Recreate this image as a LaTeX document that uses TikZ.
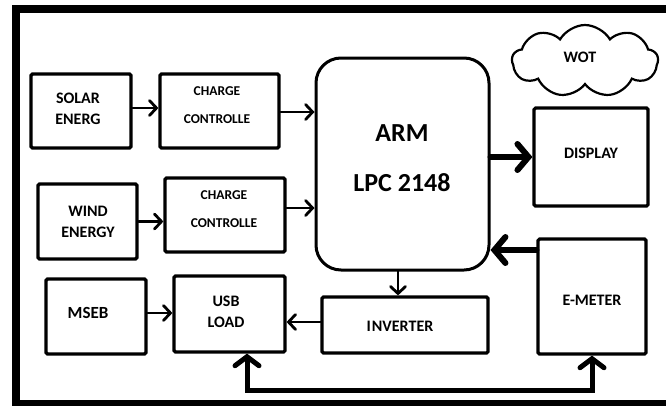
\documentclass[tikz,border=0pt]{standalone}
\usepackage{fontspec}
\setmainfont{Carlito}
\usetikzlibrary{arrows.meta,shapes.symbols}
\begin{document}
\begin{tikzpicture}[x=1pt,y=-1pt,
  box/.style={draw, line width=3.2pt, rounded corners=1.5pt, inner sep=0pt},
  txt/.style={font=\bfseries\fontsize{16}{21}\selectfont, align=center, inner sep=0pt},
  ctxt/.style={font=\bfseries\fontsize{13.5}{28}\selectfont, align=center, inner sep=0pt},
  thinarrow/.style={line width=2.8pt, line cap=round, -{Straight Barb[length=7pt,width=15pt,line cap=round]}},
  thickarrow/.style={line width=6pt, line cap=round, -{Straight Barb[length=11pt,width=26pt,line cap=round]}},
  busline/.style={line width=5pt, {Straight Barb[length=9pt,width=24pt,line cap=round]}-{Straight Barb[length=9pt,width=24pt,line cap=round]}}
]
\useasboundingbox (0,0) rectangle (666,405);
\clip (0,0) rectangle (666,405);
% outer frame
\draw[line width=8pt] (670,9) -- (15.5,9) -- (15.5,403.5) -- (670,403.5);

% boxes
\node[box, minimum width=100pt, minimum height=74pt] (solar) at (81,111) {};
\node[box, minimum width=119pt, minimum height=74pt] (cc1) at (219.5,111) {};
\node[draw, line width=3pt, rounded corners=25pt, minimum width=173pt, minimum height=212pt] (arm) at (402.5,164) {};
\node[box, minimum width=114pt, minimum height=98pt] (display) at (591,157) {};
\node[box, minimum width=99pt, minimum height=75pt] (wind) at (87.5,221.5) {};
\node[box, minimum width=120pt, minimum height=74pt] (cc2) at (225,215) {};
\node[box, minimum width=100pt, minimum height=75pt] (mseb) at (96,316.5) {};
\node[box, minimum width=111pt, minimum height=76pt] (usb) at (229.5,314) {};
\node[box, minimum width=166pt, minimum height=56pt] (inverter) at (405,325) {};
\node[box, minimum width=108pt, minimum height=115pt] (emeter) at (592,296.5) {};
\node[cloud, draw, line width=2.2pt, cloud puffs=9, cloud puff arc=120, aspect=2,
      minimum width=146pt, minimum height=72pt, inner sep=0pt] (wot) at (585,61) {};

% texts
\node[txt] (solart) at (78,108.5) {SOLAR\\ENERG};
\node[ctxt] (cc1t) at (217,105) {CHARGE\\CONTROLLE};
\node[font=\bfseries\fontsize{26}{50}\selectfont, align=center, inner sep=0pt] (armt) at (402,158) {ARM\\LPC 2148};
\node[txt] (displayt) at (591,153) {DISPLAY};
\node[txt] (windt) at (88,222) {WIND\\ENERGY};
\node[ctxt] (cc2t) at (224,209) {CHARGE\\CONTROLLE};
\node[txt, font=\bfseries\fontsize{17}{21}\selectfont] (msebt) at (88,313) {MSEB};
\node[txt] (usbt) at (226,312) {USB\\LOAD};
\node[txt] (invertert) at (400,326) {I\kern1ptNVERTER};
\node[txt] (emetert) at (592,300) {E-METER};
\node[txt] (wott) at (580,57) {WOT};

% connectors
\draw[thinarrow] ([yshift=3pt]solar.east) -- ([yshift=3pt]solar.east -| cc1.west);
\draw[thinarrow] ([yshift=-1pt]cc1.east) -- ([yshift=-1pt]cc1.east -| arm.west);
\draw[thinarrow] (wind.east) -- (wind.east -| cc2.west);
\draw[thinarrow] ([yshift=7pt]cc2.east) -- ([yshift=7pt]cc2.east -| arm.west);
\draw[thinarrow] ([yshift=3.5pt]mseb.east) -- ([yshift=3.5pt]mseb.east -| usb.west);
\draw[thinarrow] ([yshift=3pt]inverter.west) -- ([yshift=3pt]inverter.west -| usb.east);
\draw[thinarrow] ([xshift=-4.5pt]arm.south) -- ([xshift=-4.5pt]arm.south |- inverter.north);
\draw[thickarrow] (display.west -| arm.east) -- (display.west);
\draw[thickarrow] ([yshift=46.5pt]emeter.west) -- ([yshift=46.5pt]emeter.west -| arm.east);
\draw[busline] ([xshift=17.5pt]usb.south) |- ([yshift=-35pt]emeter.south) -- (emeter.south);
\end{tikzpicture}
\end{document}
